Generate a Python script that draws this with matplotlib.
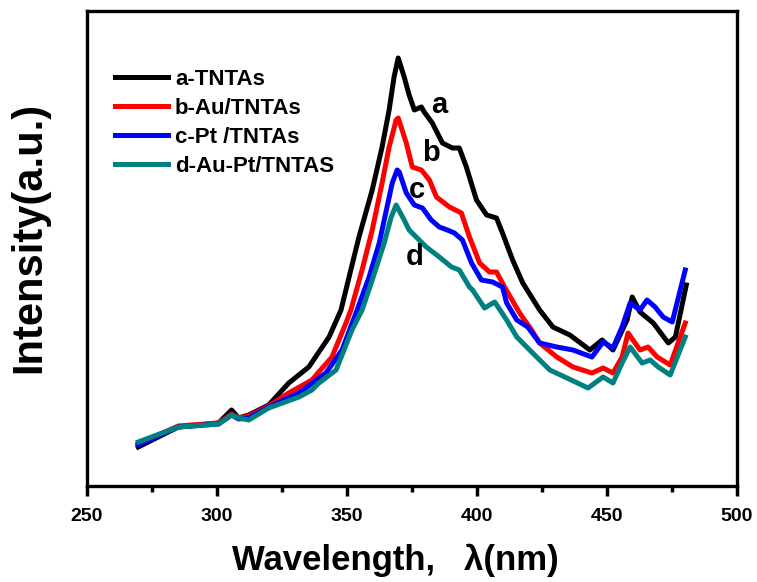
import matplotlib
matplotlib.use("Agg")
import matplotlib.pyplot as plt
from matplotlib.ticker import MultipleLocator

plt.rcParams['font.family'] = ['Liberation Sans', 'DejaVu Sans']
plt.rcParams['font.weight'] = 'bold'

# ---- data ----
wl_a = [269.7, 285.1, 300.6, 305.6, 308.3, 312.2, 319.9, 327.6, 335.3, 343.1, 347.7, 350.8, 354.6,
        359.7, 363.5, 366.2, 368.1, 369.7, 372.0, 373.9, 375.9, 378.6, 379.7, 382.8, 386.7, 390.5,
        393.2, 395.9, 399.8, 403.7, 407.5, 409.8, 413.7, 417.6, 424.1, 429.2, 435.7, 443.4, 448.1,
        452.3, 457.7, 459.7, 462.7, 467.8, 473.6, 476.3, 480.5]
int_a = [39, 59, 63, 76, 68, 71, 81, 103, 119, 149, 176, 209, 249,
         296, 339, 376, 409, 428, 409, 391, 376, 379, 374, 363, 343, 338,
         338, 319, 286, 271, 268, 253, 226, 203, 176, 159, 151, 136, 146,
         136, 166, 189, 174, 163, 143, 149, 201]

wl_b = [269.7, 285.1, 300.6, 305.6, 308.3, 312.2, 319.9, 327.6, 336.5, 344.2, 349.6, 351.5, 355.8,
        359.7, 363.5, 366.2, 368.9, 369.7, 371.2, 372.8, 375.1, 378.6, 381.7, 384.4, 389.4, 394.0,
        397.1, 401.0, 404.8, 407.5, 410.6, 416.4, 421.0, 424.1, 430.7, 436.9, 444.2, 448.5, 452.3,
        455.8, 458.1, 462.7, 465.8, 469.3, 474.3, 480.1]
int_b = [42, 60, 63, 72, 68, 70, 80, 93, 106, 129, 163, 176, 216,
         256, 303, 339, 366, 368, 356, 343, 319, 316, 306, 289, 279, 273,
         249, 223, 214, 214, 199, 173, 156, 143, 129, 119, 113, 118, 113,
         129, 153, 136, 139, 129, 121, 163]

wl_c = [269.7, 285.1, 300.6, 305.6, 308.3, 312.2, 319.9, 331.5, 341.9, 348.1, 353.9, 358.5, 362.4,
        365.4, 367.4, 369.3, 370.1, 372.8, 375.9, 379.0, 382.4, 385.5, 388.6, 391.3, 394.4, 397.9,
        401.7, 406.0, 409.8, 411.4, 415.3, 419.5, 424.1, 430.7, 436.9, 444.2, 448.5, 452.3, 455.8,
        458.9, 462.7, 465.4, 468.5, 471.6, 475.1, 480.1]
int_c = [41, 59, 62, 71, 67, 68, 79, 93, 113, 136, 176, 209, 243,
         279, 303, 316, 314, 293, 281, 278, 266, 259, 256, 253, 246, 223,
         206, 204, 199, 183, 166, 159, 143, 139, 136, 129, 144, 138, 159,
         183, 176, 186, 179, 169, 164, 216]

wl_d = [269.7, 285.1, 300.6, 305.6, 308.3, 312.2, 319.9, 331.5, 336.5, 339.2, 345.8, 351.9, 355.8,
        359.7, 364.3, 367.0, 368.9, 372.0, 373.9, 376.6, 380.5, 385.5, 390.2, 393.2, 397.1, 398.3,
        402.9, 406.8, 411.4, 415.3, 421.4, 428.0, 434.6, 442.7, 448.5, 452.3, 455.8, 458.9, 463.5,
        466.6, 469.7, 474.3, 480.1]
int_d = [44, 59, 62, 71, 68, 66, 78, 89, 96, 103, 116, 156, 176,
         206, 243, 269, 281, 266, 256, 249, 239, 229, 219, 216, 199, 196,
         178, 184, 166, 149, 133, 116, 108, 98, 109, 103, 123, 139, 123,
         126, 119, 111, 149]

series_labels = ['a-TNTAs', 'b-Au/TNTAs', 'c-Pt /TNTAs', 'd-Au-Pt/TNTAS']
series_colors = ['#000000', '#ff0000', '#0000ff', '#008080']
curve_letters = ['a', 'b', 'c', 'd']
letter_wl = [385.5, 382.4, 377.0, 375.9]
letter_int = [381, 333, 296, 229]

# ---- figure ----
fig = plt.figure(figsize=(7.57, 5.82), dpi=100)
ax = fig.add_axes([87/757, 1-486/582, 650/757, 475/582])

for wl, it, lab, col in zip([wl_a, wl_b, wl_c, wl_d], [int_a, int_b, int_c, int_d],
                            series_labels, series_colors):
    ax.plot(wl, it, color=col, lw=3.6, label=lab, solid_joinstyle='round')

for L, x, y in zip(curve_letters, letter_wl, letter_int):
    ax.text(x, y, L, fontsize=21, fontweight='bold', ha='center', va='center')

ax.set_xlim(250, 500)
ax.set_ylim(0, 475)
ax.xaxis.set_major_locator(MultipleLocator(50))
ax.xaxis.set_minor_locator(MultipleLocator(25))
ax.tick_params(axis='x', which='major', direction='out', length=7, width=2.5,
               labelsize=14, pad=9)
ax.tick_params(axis='x', which='minor', direction='out', length=4, width=2.5)
ax.set_yticks([])
for lbl in ax.get_xticklabels():
    lbl.set_fontweight('bold')
for s in ax.spines.values():
    s.set_linewidth(2.4)

ax.set_xlabel('Wavelength,   λ(nm)', fontsize=25, fontweight='bold', labelpad=13)
ax.xaxis.label.set_x(0.475)
ax.set_ylabel('Intensity(a.u.)', fontsize=30, fontweight='bold')
ax.yaxis.set_label_coords(-0.058, 0.524)

leg = ax.legend(loc='upper left', bbox_to_anchor=(28/650, (486-69)/475), frameon=False,
                fontsize=16, handlelength=2.4, handletextpad=0.3, labelspacing=0.36,
                borderaxespad=0, borderpad=0)
for t in leg.get_texts():
    t.set_fontweight('bold')
for h in leg.get_lines():
    h.set_linewidth(3.6)

fig.savefig('out.png', dpi=100)
